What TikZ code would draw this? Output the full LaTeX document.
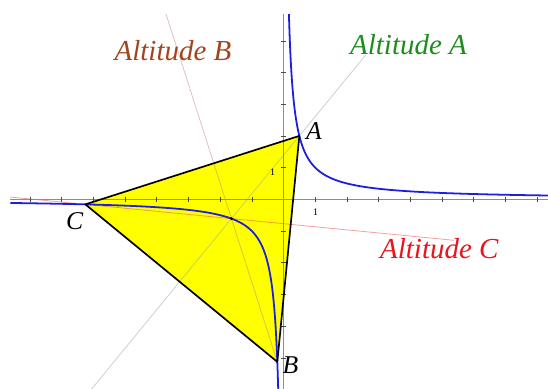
\documentclass[tikz,border=0pt]{standalone}
\usepackage{fontspec}
\setmainfont{Liberation Serif}
\usetikzlibrary{calc}
\definecolor{hypblue}{RGB}{30,30,225}
\definecolor{triyellow}{RGB}{255,255,0}
\definecolor{altAline}{RGB}{150,175,150}
\definecolor{altBline}{RGB}{190,140,140}
\definecolor{altCline}{RGB}{235,80,80}
\definecolor{altAtext}{RGB}{30,140,30}
\definecolor{altBtext}{RGB}{160,70,30}
\definecolor{altCtext}{RGB}{232,20,30}
\definecolor{axisgray}{RGB}{140,140,140}
\tikzset{
  axisline/.style={draw=axisgray, line width=0.8pt},
  tickmark/.style={draw=black!70, line width=0.5pt},
  hyper/.style={draw=hypblue, line width=1.6pt, smooth},
  altline/.style={line width=0.7pt, opacity=0.55},
  vlabel/.style={font=\fontsize{23}{26}\selectfont\itshape, anchor=base, inner sep=0pt},
  altlabel/.style={font=\fontsize{26}{30}\selectfont\itshape, anchor=base, inner sep=0pt},
  ticklabel/.style={font=\fontsize{9}{10}\selectfont, inner sep=0pt}
}
\begin{document}
\begin{tikzpicture}[x=1cm,y=1cm]
\useasboundingbox (-8.943,-5.984) rectangle (8.344,6.287);
% vertices and orthocentre
\coordinate (A) at (0.5,2);
\coordinate (B) at (-0.195,-5.1282);
\coordinate (C) at (-6.25,-0.16);
\coordinate (H) at (-1.64103,-0.609375);
% triangle fill
\fill[triyellow] (A) -- (B) -- (C) -- cycle;
% altitudes
\coordinate (a1) at ($(A)!-0.978!(H)$);
\coordinate (a2) at ($(A)!3.06!(H)$);
\coordinate (b1) at ($(B)!2.428!(H)$);
\coordinate (c1) at ($(C)!-0.516!(H)$);
\coordinate (c2) at ($(C)!2.523!(H)$);
\draw[altline, altAline] (a1) -- (a2);
\draw[altline, altBline] (B) -- (b1);
\draw[altline, altCline] (c1) -- (c2);
% axes
\coordinate (xl) at (-8.628,0);
\coordinate (xr) at (8.344,0);
\coordinate (yb) at (0,-5.984);
\coordinate (yt) at (0,5.845);
\draw[axisline] (xl) -- (xr);
\draw[axisline] (yb) -- (yt);
\foreach \i in {-8,...,8} {\ifnum\i=0\else\draw[tickmark] (\i,-0.07) -- (\i,0.07);\fi}
\foreach \i in {-5,...,5} {\ifnum\i=0\else\draw[tickmark] (-0.07,\i) -- (0.07,\i);\fi}
\node[ticklabel] (tx) at (1.016,-0.391) {1};
\node[ticklabel] (ty) at (-0.341,0.871) {1};
% hyperbola y = 1/x
\draw[hyper] plot[variable=\t, domain=-1.7655:2.1216, samples=160] ({exp(\t)},{exp(-\t)});
\draw[hyper] plot[variable=\t, domain=-1.789:2.155, samples=160] ({-exp(\t)},{-exp(-\t)});
% triangle edges
\draw[black, line width=1.5pt, line join=round] (A) -- (B) -- (C) -- cycle;
\fill[black] (H) circle (0.045);
% labels
\node[vlabel] (lA) at (0.962,1.893) {A};
\node[vlabel] (lB) at (0.221,-5.489) {B};
\node[vlabel] (lC) at (-6.587,-0.946) {C};
\node[altlabel, text=altAtext] (tA) at (3.943,4.552) {Altitude A};
\node[altlabel, text=altBtext] (tB) at (-3.486,4.363) {Altitude B};
\node[altlabel, text=altCtext] (tC) at (4.915,-1.883) {Altitude C};
\end{tikzpicture}
\end{document}
